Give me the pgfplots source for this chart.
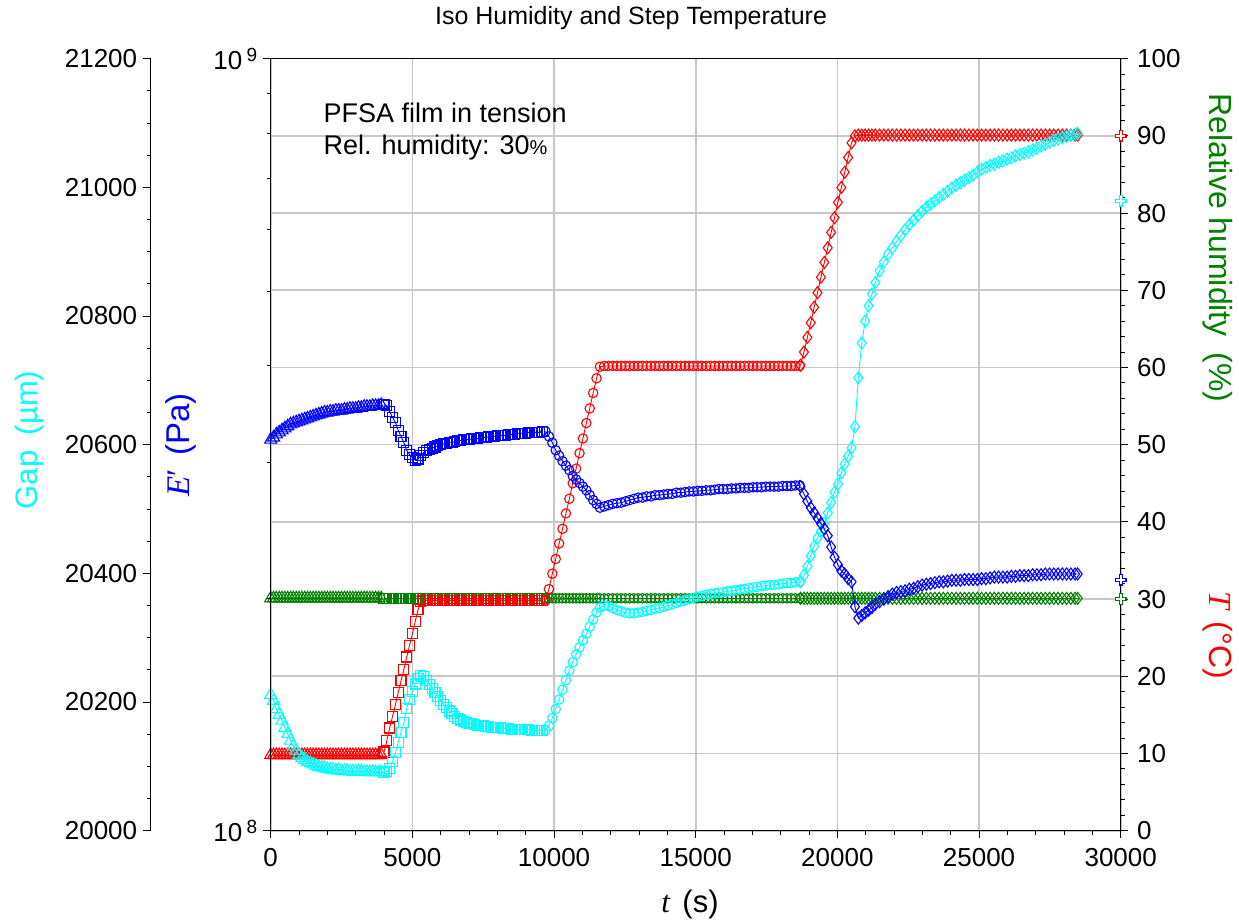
\documentclass[border=0pt]{standalone}
\usepackage{pgfplots}
\usepackage{pgfplotstable}
\pgfplotsset{compat=1.18}
\usepackage{fontspec}
\setmainfont{Liberation Sans}
\newfontfamily\tnr{Liberation Serif}
\definecolor{cgreen}{RGB}{0,128,0}
\definecolor{ccyan}{RGB}{0,255,255}
\definecolor{cblue}{RGB}{0,0,255}
\definecolor{cred}{RGB}{255,0,0}
\definecolor{cgrid}{RGB}{200,200,200}

% segment 1 (triangles)
\pgfplotstableread{
t gap E T RH
0 20211 3.21e8 9.8 30.1
100 20202 3.23e8 9.8 30.1
200 20189 3.26e8 9.8 30.1
300 20180 3.28e8 9.8 30.1
400 20171 3.30e8 9.8 30.1
500 20160 3.32e8 9.8 30.1
600 20150 3.34e8 9.8 30.1
700 20140 3.36e8 9.8 30.1
800 20131 3.37e8 9.8 30.1
900 20124 3.38e8 9.8 30.1
1000 20118 3.39e8 9.8 30.1
1100 20113 3.40e8 9.8 30.1
1200 20110 3.41e8 9.8 30.1
1300 20107 3.42e8 9.8 30.1
1400 20105 3.43e8 9.8 30.1
1500 20103 3.44e8 9.8 30.1
1600 20101 3.45e8 9.8 30.1
1700 20099 3.46e8 9.8 30.1
1800 20098 3.47e8 9.8 30.1
1900 20097 3.48e8 9.8 30.1
2000 20096 3.48e8 9.8 30.1
2100 20095 3.49e8 9.8 30.1
2200 20095 3.49e8 9.8 30.1
2300 20094 3.50e8 9.8 30.1
2400 20094 3.50e8 9.8 30.1
2500 20093 3.50e8 9.8 30.1
2600 20093 3.51e8 9.8 30.1
2700 20093 3.51e8 9.8 30.1
2800 20092 3.52e8 9.8 30.1
2900 20092 3.52e8 9.8 30.1
3000 20092 3.52e8 9.8 30.1
3100 20092 3.53e8 9.8 30.1
3200 20092 3.53e8 9.8 30.1
3300 20091 3.54e8 9.8 30.1
3400 20091 3.54e8 9.8 30.1
3500 20091 3.54e8 9.8 30.1
3600 20091 3.55e8 9.8 30.1
3700 20091 3.55e8 9.8 30.1
3800 20091 3.55e8 9.8 30.1
3900 20091 3.56e8 9.8 30.1
}\segA

% segment 2 (squares)
\pgfplotstableread{
t gap E T RH
4000 20091 3.56e8 10.2 30.1
4100 20092 3.55e8 11.7 30.1
4200 20097 3.49e8 13.3 30.1
4300 20107 3.43e8 14.8 30.1
4400 20121 3.38e8 16.3 30.1
4500 20137 3.30e8 17.9 30.1
4600 20153 3.24e8 19.4 30.1
4700 20168 3.18e8 20.9 30.1
4800 20190 3.11e8 22.5 30.1
4900 20204 3.07e8 24.0 30.1
5000 20217 3.04e8 25.5 30.1
5100 20228 3.02e8 27.1 30.1
5200 20236 3.03e8 28.6 30.1
5300 20241 3.06e8 29.7 30.1
5400 20240 3.09e8 29.8 30.1
5500 20234 3.11e8 29.8 30.1
5600 20227 3.12e8 29.8 30.1
5700 20221 3.13e8 29.8 30.1
5800 20215 3.14e8 29.8 30.1
5900 20208 3.15e8 29.8 30.1
6000 20202 3.16e8 29.8 30.1
6100 20196 3.17e8 29.8 30.1
6200 20191 3.17e8 29.8 30.1
6300 20186 3.18e8 29.8 30.1
6400 20182 3.18e8 29.8 30.1
6500 20178 3.19e8 29.8 30.1
6600 20175 3.20e8 29.8 30.1
6700 20172 3.20e8 29.8 30.1
6800 20170 3.21e8 29.8 30.1
6900 20168 3.21e8 29.8 30.1
7000 20167 3.21e8 29.8 30.1
7100 20166 3.22e8 29.8 30.1
7200 20165 3.22e8 29.8 30.1
7300 20164 3.22e8 29.8 30.1
7400 20163 3.23e8 29.8 30.1
7500 20163 3.23e8 29.8 30.1
7600 20162 3.23e8 29.8 30.1
7700 20162 3.24e8 29.8 30.1
7800 20161 3.24e8 29.8 30.1
7900 20161 3.24e8 29.8 30.1
8000 20160 3.25e8 29.8 30.1
8100 20160 3.25e8 29.8 30.1
8200 20159 3.25e8 29.8 30.1
8300 20159 3.25e8 29.8 30.1
8400 20159 3.26e8 29.8 30.1
8500 20158 3.26e8 29.8 30.1
8600 20158 3.26e8 29.8 30.1
8700 20158 3.27e8 29.8 30.1
8800 20157 3.27e8 29.8 30.1
8900 20157 3.27e8 29.8 30.1
9000 20157 3.27e8 29.8 30.1
9100 20157 3.28e8 29.8 30.1
9200 20156 3.28e8 29.8 30.1
9300 20156 3.28e8 29.8 30.1
9400 20156 3.28e8 29.8 30.1
9500 20156 3.28e8 29.8 30.1
9600 20156 3.29e8 29.8 30.1
}\segB

% segment 3 (circles)
\pgfplotstableread{
t gap E T RH
9700 20156 3.29e8 29.8 30.1
9820 20163 3.24e8 31.3 30.1
9940 20175 3.18e8 33.3 30.1
10060 20189 3.11e8 35.2 30.1
10180 20204 3.06e8 37.2 30.1
10300 20219 3.01e8 39.1 30.1
10420 20234 2.97e8 41.1 30.1
10540 20249 2.93e8 43.0 30.1
10660 20262 2.88e8 45.0 30.1
10780 20274 2.85e8 46.9 30.1
10900 20285 2.82e8 48.9 30.1
11020 20296 2.79e8 50.8 30.1
11140 20306 2.76e8 52.8 30.1
11260 20317 2.72e8 54.7 30.1
11380 20328 2.68e8 56.7 30.1
11500 20339 2.65e8 58.6 30.1
11620 20347 2.62e8 60.1 30.1
11770 20350 2.63e8 60.2 30.1
11920 20349 2.64e8 60.2 30.1
12070 20346 2.65e8 60.2 30.1
12220 20343 2.655e8 60.2 30.1
12370 20341 2.66e8 60.2 30.1
12520 20339 2.67e8 60.2 30.1
12670 20338 2.68e8 60.2 30.1
12820 20338 2.69e8 60.2 30.1
12970 20339 2.70e8 60.2 30.1
13120 20340 2.70e8 60.2 30.1
13270 20342 2.71e8 60.2 30.1
13420 20343 2.71e8 60.2 30.1
13570 20345 2.72e8 60.2 30.1
13720 20346 2.72e8 60.2 30.1
13870 20348 2.725e8 60.2 30.1
14020 20350 2.73e8 60.2 30.1
14170 20352 2.73e8 60.2 30.1
14320 20354 2.74e8 60.2 30.1
14470 20356 2.74e8 60.2 30.1
14620 20358 2.745e8 60.2 30.1
14770 20360 2.75e8 60.2 30.1
14920 20362 2.75e8 60.2 30.1
15070 20364 2.755e8 60.2 30.1
15220 20365 2.755e8 60.2 30.1
15370 20367 2.76e8 60.2 30.1
15520 20368 2.76e8 60.2 30.1
15670 20369 2.765e8 60.2 30.1
15820 20370 2.77e8 60.2 30.1
15970 20371 2.77e8 60.2 30.1
16120 20372 2.77e8 60.2 30.1
16270 20373 2.775e8 60.2 30.1
16420 20374 2.775e8 60.2 30.1
16570 20375 2.78e8 60.2 30.1
16720 20376 2.78e8 60.2 30.1
16870 20377 2.78e8 60.2 30.1
17020 20378 2.785e8 60.2 30.1
17170 20379 2.785e8 60.2 30.1
17320 20380 2.785e8 60.2 30.1
17470 20381 2.79e8 60.2 30.1
17620 20382 2.79e8 60.2 30.1
17770 20382 2.79e8 60.2 30.1
17920 20383 2.79e8 60.2 30.1
18070 20384 2.795e8 60.2 30.1
18220 20385 2.795e8 60.2 30.1
18370 20385 2.795e8 60.2 30.1
18520 20386 2.80e8 60.2 30.1
18670 20387 2.80e8 60.2 30.1
}\segC

% segment 4 (diamonds)
\pgfplotstableread{
t gap E T RH
18700 20387 2.79e8 60.3 30.1
18820 20397 2.73e8 62.0 30.1
18940 20411 2.67e8 63.9 30.1
19060 20427 2.62e8 65.8 30.1
19180 20442 2.58e8 67.8 30.1
19300 20455 2.54e8 69.7 30.1
19420 20465 2.50e8 71.7 30.1
19540 20478 2.46e8 73.6 30.1
19660 20494 2.41e8 75.5 30.1
19780 20510 2.33e8 77.5 30.1
19900 20526 2.26e8 79.4 30.1
20020 20539 2.21e8 81.4 30.1
20140 20556 2.17e8 83.3 30.1
20260 20570 2.15e8 85.3 30.1
20380 20582 2.12e8 87.2 30.1
20500 20595 2.10e8 89.1 30.1
20620 20628 1.95e8 90.0 30.1
20740 20704 1.885e8 90.1 30.1
20860 20758 1.90e8 90.1 30.1
20980 20792 1.915e8 90.1 30.1
21100 20816 1.93e8 90.1 30.1
21220 20834 1.945e8 90.1 30.1
21340 20852 1.965e8 90.1 30.1
21490 20870 1.98e8 90.1 30.1
21640 20884 1.995e8 90.1 30.1
21790 20896 2.01e8 90.1 30.1
21940 20906 2.025e8 90.1 30.1
22090 20916 2.035e8 90.1 30.1
22240 20925 2.04e8 90.1 30.1
22390 20934 2.045e8 90.1 30.1
22540 20942 2.055e8 90.1 30.1
22690 20949 2.06e8 90.1 30.1
22840 20956 2.07e8 90.1 30.1
22990 20963 2.08e8 90.1 30.1
23140 20969 2.085e8 90.1 30.1
23290 20974 2.09e8 90.1 30.1
23440 20979 2.095e8 90.1 30.1
23590 20984 2.10e8 90.1 30.1
23740 20989 2.10e8 90.1 30.1
23890 20994 2.105e8 90.1 30.1
24040 20999 2.11e8 90.1 30.1
24190 21003 2.11e8 90.1 30.1
24340 21007 2.11e8 90.1 30.1
24490 21011 2.115e8 90.1 30.1
24640 21015 2.115e8 90.1 30.1
24790 21019 2.115e8 90.1 30.1
24940 21024 2.115e8 90.1 30.1
25090 21028 2.12e8 90.1 30.1
25240 21031 2.12e8 90.1 30.1
25390 21034 2.125e8 90.1 30.1
25540 21036 2.13e8 90.1 30.1
25690 21039 2.13e8 90.1 30.1
25840 21041 2.13e8 90.1 30.1
25990 21044 2.13e8 90.1 30.1
26140 21046 2.135e8 90.1 30.1
26290 21049 2.135e8 90.1 30.1
26440 21051 2.14e8 90.1 30.1
26590 21053 2.14e8 90.1 30.1
26740 21055 2.14e8 90.1 30.1
26890 21058 2.145e8 90.1 30.1
27040 21061 2.145e8 90.1 30.1
27190 21064 2.145e8 90.1 30.1
27340 21067 2.15e8 90.1 30.1
27490 21070 2.15e8 90.1 30.1
27640 21073 2.15e8 90.1 30.1
27790 21075 2.15e8 90.1 30.1
27940 21077 2.15e8 90.1 30.1
28090 21079 2.15e8 90.1 30.1
28240 21081 2.15e8 90.1 30.1
28390 21083 2.15e8 90.1 30.1
28480 21084 2.15e8 90.1 30.1
}\segD

\pgfplotsset{
  myax/.style={scale only axis, width=850pt, height=772pt,
    at={(270.7pt,90.3pt)}, anchor=south west, xmin=0, xmax=30000, clip=false},
  tkl/.style={ticklabel style={font=\fontsize{26}{26}\selectfont},
    /pgf/number format/assume math mode=true, /pgf/number format/1000 sep={},
    /pgf/number format/fixed, /pgf/number format/precision=0},
  ser/.style={draw=#1, line width=0.9pt, mark options={draw=#1, line width=1.1pt, fill=none, solid}},
  mA/.style={mark=triangle, mark size=7pt},
  mB/.style={mark=square, mark size=5pt},
  mC/.style={mark=o, mark size=4.7pt},
  mD/.style={mark=diamond, mark size=6pt},
  endmk/.style={only marks, mark=+, mark size=6pt, mark options={draw=#1, line width=4pt}},
  endin/.style={only marks, mark=+, mark size=4.6pt, mark options={draw=white, line width=1.6pt}},
}

\begin{document}
\begin{tikzpicture}
\path[use as bounding box] (0,0) rectangle (1239pt,921pt);

% base axis: T and RH (right), grid, x axis
\begin{axis}[myax, tkl, ymin=0, ymax=100,
  xtick={0,5000,...,30000}, minor x tick num=4,
  ytick={0,10,...,100}, minor y tick num=4,
  xtick pos=left, ytick pos=right, yticklabel pos=right,
  xticklabel style={yshift=-7pt},
  yticklabel style={xshift=6pt},
  tick align=outside, major tick length=7pt, minor tick length=4pt,
  tick style={black, line width=1pt},
  xmajorgrids, ymajorgrids,
  major grid style={draw=cgrid, line width=1.6pt},
  axis line style={line width=1.3pt},
  scaled x ticks=false]
\addplot[ser=cgreen, mA] table[x=t,y=RH]{\segA};
\addplot[ser=cgreen, mB] table[x=t,y=RH]{\segB};
\addplot[ser=cgreen, mC] table[x=t,y=RH]{\segC};
\addplot[ser=cgreen, mD] table[x=t,y=RH]{\segD};
\addplot[ser=cred, mA] table[x=t,y=T]{\segA};
\addplot[ser=cred, mB] table[x=t,y=T]{\segB};
\addplot[ser=cred, mC] table[x=t,y=T]{\segC};
\addplot[ser=cred, mD] table[x=t,y=T]{\segD};
\addplot[endmk=cred] coordinates {(30000,90)};
\addplot[endin] coordinates {(30000,90)};
\addplot[endmk=ccyan] coordinates {(30000,81.6)};
\addplot[endin] coordinates {(30000,81.6)};
\addplot[endmk=cblue] coordinates {(30000,32.5)};
\addplot[endin] coordinates {(30000,32.5)};
\addplot[endmk=cgreen] coordinates {(30000,30)};
\addplot[endin] coordinates {(30000,30)};
\end{axis}

% Gap (cyan)
\begin{axis}[myax, hide axis, ymin=20000, ymax=21200]
\addplot[ser=ccyan, mA] table[x=t,y=gap]{\segA};
\addplot[ser=ccyan, mB] table[x=t,y=gap]{\segB};
\addplot[ser=ccyan, mC] table[x=t,y=gap]{\segC};
\addplot[ser=ccyan, mD] table[x=t,y=gap]{\segD};
\end{axis}

% E' (blue, log)
\begin{axis}[myax, tkl, ymode=log, ymin=1e8, ymax=1e9,
  axis x line=none, axis y line*=left,
  axis line style={line width=1.3pt},
  ytick={1e8,1e9},
  yticklabels={{10\,\raisebox{8pt}{\fontsize{19}{19}\selectfont 8}},{10\,\raisebox{8pt}{\fontsize{19}{19}\selectfont 9}}},
  yticklabel style={xshift=-2pt},
  minor ytick={2e8,3e8,4e8,5e8,6e8,7e8,8e8,9e8},
  tick align=outside, major tick length=8pt, minor tick length=4pt,
  tick style={black, line width=1pt}]
\addplot[ser=cblue, mA] table[x=t,y=E]{\segA};
\addplot[ser=cblue, mB] table[x=t,y=E]{\segB};
\addplot[ser=cblue, mC] table[x=t,y=E]{\segC};
\addplot[ser=cblue, mD] table[x=t,y=E]{\segD};
\end{axis}

% Gap axis (offset left)
\begin{axis}[scale only axis, width=1pt, height=772pt, at={(150.7pt,90.3pt)}, anchor=south west,
  tkl, xmin=0, xmax=1, ymin=20000, ymax=21200,
  scaled y ticks=false,
  axis x line=none, axis y line*=left,
  axis line style={line width=1.3pt},
  ytick={20000,20200,...,21200}, minor y tick num=3,
  yticklabel style={xshift=-2pt},
  tick align=outside, major tick length=8pt, minor tick length=4pt,
  tick style={black, line width=1pt}]
\addplot[draw=none] coordinates {(0,20000)};
\end{axis}

% texts
\node[font=\fontsize{25}{25}\selectfont] at (631pt,903pt) {Iso Humidity and Step Temperature};
\node[anchor=base west, font=\fontsize{27}{27}\selectfont] at (320pt,798pt) {PFSA film in tension};
\node[anchor=base west, font=\fontsize{27}{27}\selectfont] at (320pt,766pt) {Rel. humidity: 30{\fontsize{20}{20}\selectfont\%}};
\node[rotate=90, text=ccyan, font=\fontsize{31}{31}\selectfont] at (29pt,481pt) {Gap\hspace{0.5em}(µm)};
\node[rotate=90, text=cblue, font=\fontsize{33}{33}\selectfont] at (181pt,476pt) {{\tnr\itshape E}{\tnr ′}\hspace{0.4em}(Pa)};
\node[rotate=-90, text=cgreen, font=\fontsize{32}{32}\selectfont] at (1218pt,673pt) {Relative humidity\hspace{0.5em}(\%)};
\node[rotate=-90, text=cred, font=\fontsize{32}{32}\selectfont] at (1218pt,286pt) {{\tnr\itshape T}\hspace{0.4em}(°C)};
\node[font=\fontsize{31}{31}\selectfont] at (690pt,17pt) {{\tnr\itshape t}\hspace{0.4em}(s)};
\end{tikzpicture}
\end{document}
